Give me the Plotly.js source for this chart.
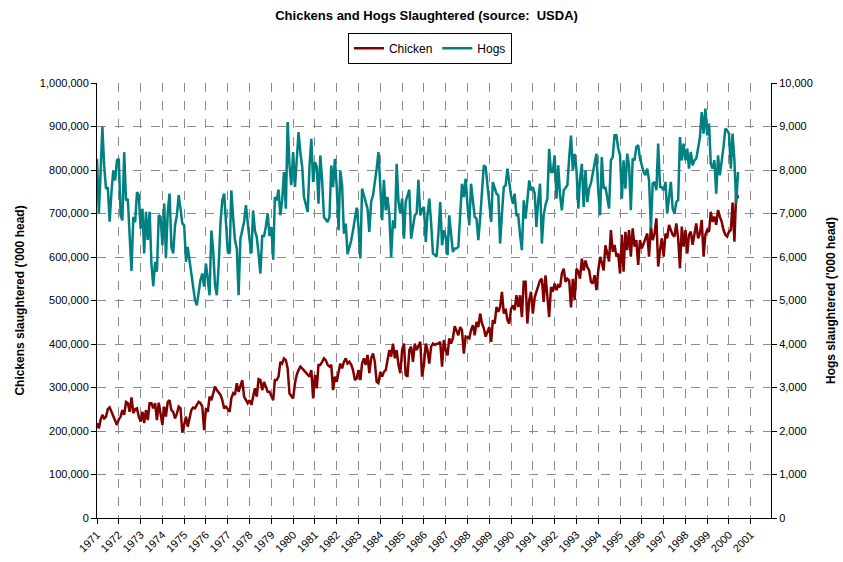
<!DOCTYPE html>
<html><head><meta charset="utf-8">
<script src="https://cdn.plot.ly/plotly-3.0.1.min.js"></script>
<style>html,body{margin:0;padding:0;background:#fff}</style>
</head><body><div id="chart" style="width:843px;height:562px"></div>
<script>
const startYear = 1971;
const yearLabels = [1971,1972,1973,1974,1975,1976,1977,1978,1979,1980,1981,1982,1983,1984,1985,1986,1987,1988,1989,1990,1991,1992,1993,1994,1995,1996,1997,1998,1999,2000,2001];

// Chickens slaughtered ('000 head), monthly from Jan 1971
const chicken = [
218000,206000,225000,237000,229000,233000,250000,254000,244000,233000,222000,214000,
227000,233000,248000,237000,267000,264000,244000,277000,241000,250000,252000,233000,
222000,244000,218000,248000,225000,264000,264000,252000,264000,225000,265000,241000,
214000,256000,233000,267000,271000,248000,244000,229000,240000,256000,252000,196000,
218000,233000,210000,229000,248000,254000,252000,260000,267000,264000,256000,202000,
252000,244000,279000,271000,285000,302000,294000,288000,283000,271000,252000,256000,
250000,244000,275000,287000,283000,310000,290000,305000,317000,279000,271000,264000,
271000,260000,279000,298000,279000,319000,317000,294000,313000,302000,290000,290000,
279000,271000,317000,317000,325000,359000,355000,367000,363000,344000,286000,279000,
275000,310000,329000,340000,348000,344000,339000,335000,331000,325000,340000,275000,
329000,298000,352000,352000,359000,367000,363000,352000,348000,352000,294000,325000,
313000,333000,355000,344000,359000,367000,355000,359000,352000,340000,317000,321000,
340000,317000,355000,367000,352000,375000,333000,367000,378000,359000,313000,310000,
336000,325000,336000,340000,359000,386000,371000,401000,367000,386000,352000,333000,
386000,401000,329000,325000,386000,394000,359000,401000,386000,395000,405000,325000,
352000,401000,386000,355000,394000,401000,398000,400000,401000,405000,348000,409000,
386000,374000,413000,401000,413000,441000,430000,420000,439000,432000,378000,417000,
415000,413000,432000,443000,420000,451000,439000,470000,447000,436000,417000,428000,
439000,405000,455000,447000,485000,474000,485000,520000,470000,481000,455000,447000,
481000,489000,478000,512000,485000,512000,462000,543000,543000,447000,501000,520000,
470000,508000,520000,535000,546000,550000,497000,558000,497000,462000,531000,520000,
539000,524000,535000,531000,562000,573000,543000,550000,546000,484000,550000,501000,
573000,566000,550000,596000,569000,592000,577000,569000,543000,539000,558000,524000,
569000,600000,588000,569000,627000,611000,590000,662000,612000,628000,601000,608000,
562000,651000,566000,658000,616000,662000,601000,666000,624000,639000,582000,639000,
620000,631000,643000,654000,601000,670000,639000,654000,689000,578000,616000,643000,
601000,654000,643000,674000,662000,651000,647000,677000,643000,574000,670000,624000,
662000,608000,651000,658000,628000,658000,677000,643000,654000,685000,601000,651000,
662000,658000,704000,681000,693000,674000,708000,693000,681000,662000,651000,647000,
658000,662000,725000,635000,750000,735000
];

// Hogs slaughtered ('000 head), monthly from Jan 1971
const hogs = [
8260,7000,7900,9000,8100,7570,7600,6810,7500,7990,7760,8220,
8260,6960,6840,8410,7300,7330,6500,5680,6920,6800,7490,7420,
6650,7110,6080,7040,6390,7040,5850,5330,5890,5660,6960,6920,
6270,7230,5970,7040,7460,6230,6080,6730,6960,7420,7100,6770,
6730,5890,6230,5900,5540,5300,5010,4890,5200,5470,5620,5320,
5850,5400,5120,6610,6160,5350,5120,5800,6800,7300,7460,6800,
6120,6080,7530,6900,6390,6200,5120,6420,6600,6810,7190,6700,
6390,6080,7070,6600,6460,6080,5620,6480,6480,6700,7000,6480,
6690,5940,7380,7300,7550,6960,7300,7950,7110,9100,8100,7650,
8410,7610,8370,8870,8400,8070,7380,7200,7035,8067,8717,7723,
8182,8067,7226,8335,7761,6920,6860,6806,6920,8105,7608,8258,
7608,6614,7990,7647,6538,6767,6064,6200,6385,6614,6900,7134,
6690,5965,7570,7400,7226,7111,6576,7264,7417,7700,8029,8411,
7685,6844,7776,7073,7379,6958,6003,6844,6653,8143,7264,7000,
7341,6423,7264,7400,7547,6423,6700,6958,7000,7776,6958,7100,
7150,6347,6958,7341,6800,6079,6050,6003,6538,7264,6270,6614,
6462,6041,6958,6500,6118,6194,6200,6232,6900,7685,7379,7799,
7200,6729,7685,7300,6920,6882,6385,6900,7455,8105,8067,7600,
7226,6806,7723,7600,7455,7417,6309,7000,7608,7647,8029,7723,
7400,7226,7455,6958,6958,6500,6156,7303,6882,7300,7761,7532,
7608,7455,6690,7300,7685,6309,6958,7200,7341,8488,7952,7952,
8335,7341,8105,7417,7073,7532,7600,7647,8296,8793,7990,8373,
7990,7111,7800,8143,7150,7990,7264,7570,7700,7914,8105,8373,
7532,6958,8296,7570,7611,7400,7113,8223,8300,8798,8798,8500,
8338,7343,8223,7573,8377,8108,7075,8262,8223,8530,8568,8262,
8108,7950,7879,8032,7764,6654,7687,7726,7534,8606,7611,7600,
7534,7726,6998,7420,7726,7113,6998,7266,7305,8759,8223,8606,
8223,8491,8032,8415,8108,8223,8262,8500,8759,9334,8836,9410,
8798,9066,8147,8032,8223,7458,8338,7879,8185,8530,8951,8913,
8836,8032,8836,8223,7228,7955
];

const months = chicken.map((_, i) => {
  const y = startYear + Math.floor(i / 12);
  const m = (i % 12) + 1;
  return y + '-' + String(m).padStart(2, '0') + '-01';
});

const FONT = 'Liberation Sans, Arial, sans-serif';

const traces = [
  {x: months, y: chicken, type: 'scatter', mode: 'lines', name: 'Chicken',
   line: {color: '#800000', width: 2.5}, yaxis: 'y'},
  {x: months, y: hogs, type: 'scatter', mode: 'lines', name: 'Hogs',
   line: {color: '#008080', width: 2.5}, yaxis: 'y2'}
];

const layout = {
  width: 843, height: 562,
  margin: {l: 97, r: 72, t: 83, b: 44},
  paper_bgcolor: '#fff', plot_bgcolor: '#fff',
  font: {family: FONT, size: 11, color: '#000'},
  title: {text: 'Chickens and Hogs Slaughtered (source:\u00a0 USDA)',
    font: {family: FONT, size: 13, color: '#000', weight: 700},
    xref: 'container', yref: 'container', x: 0.506, y: 0.973, xanchor: 'center', yanchor: 'middle'},
  showlegend: true,
  legend: {orientation: 'h', x: 0.494, xanchor: 'center', y: 1.08, yanchor: 'middle',
    bordercolor: '#000', borderwidth: 1, bgcolor: '#fff',
    font: {family: FONT, size: 12, color: '#000'}, tracegroupgap: 0},
  xaxis: {
    type: 'date', range: ['1971-01-01', '2001-12-05'],
    tickvals: yearLabels.map(y => y + '-01-01'),
    ticktext: yearLabels.map(String),
    tickangle: -45, ticks: 'outside', ticklen: 5, tickcolor: '#000',
    showgrid: true, gridcolor: '#8c8c8c', griddash: 'dash', gridwidth: 1,
    showline: true, linecolor: '#000', linewidth: 1, zeroline: false,
    tickfont: {family: FONT, size: 11, color: '#000'}
  },
  yaxis: {
    range: [0, 1000000], dtick: 100000, tick0: 0, tickformat: ',d',
    ticks: 'outside', ticklen: 5, tickcolor: '#000',
    showgrid: true, gridcolor: '#8c8c8c', griddash: 'dash', gridwidth: 1,
    showline: true, linecolor: '#000', linewidth: 1, zeroline: false,
    tickfont: {family: FONT, size: 11, color: '#000'},
    title: {text: "Chickens slaughtered ('000 head)", font: {family: FONT, size: 12, color: '#000', weight: 700}, standoff: 12}
  },
  yaxis2: {
    overlaying: 'y', side: 'right',
    range: [0, 10000], dtick: 1000, tick0: 0, tickformat: ',d',
    ticks: 'outside', ticklen: 5, tickcolor: '#000',
    showgrid: false, showline: true, linecolor: '#000', linewidth: 1, zeroline: false,
    tickfont: {family: FONT, size: 11, color: '#000'},
    title: {text: "Hogs slaughtered ('000 head)", font: {family: FONT, size: 12, color: '#000', weight: 700}, standoff: 14}
  }
};

Plotly.newPlot('chart', traces, layout, {staticPlot: true, displayModeBar: false});
</script>
</body></html>
